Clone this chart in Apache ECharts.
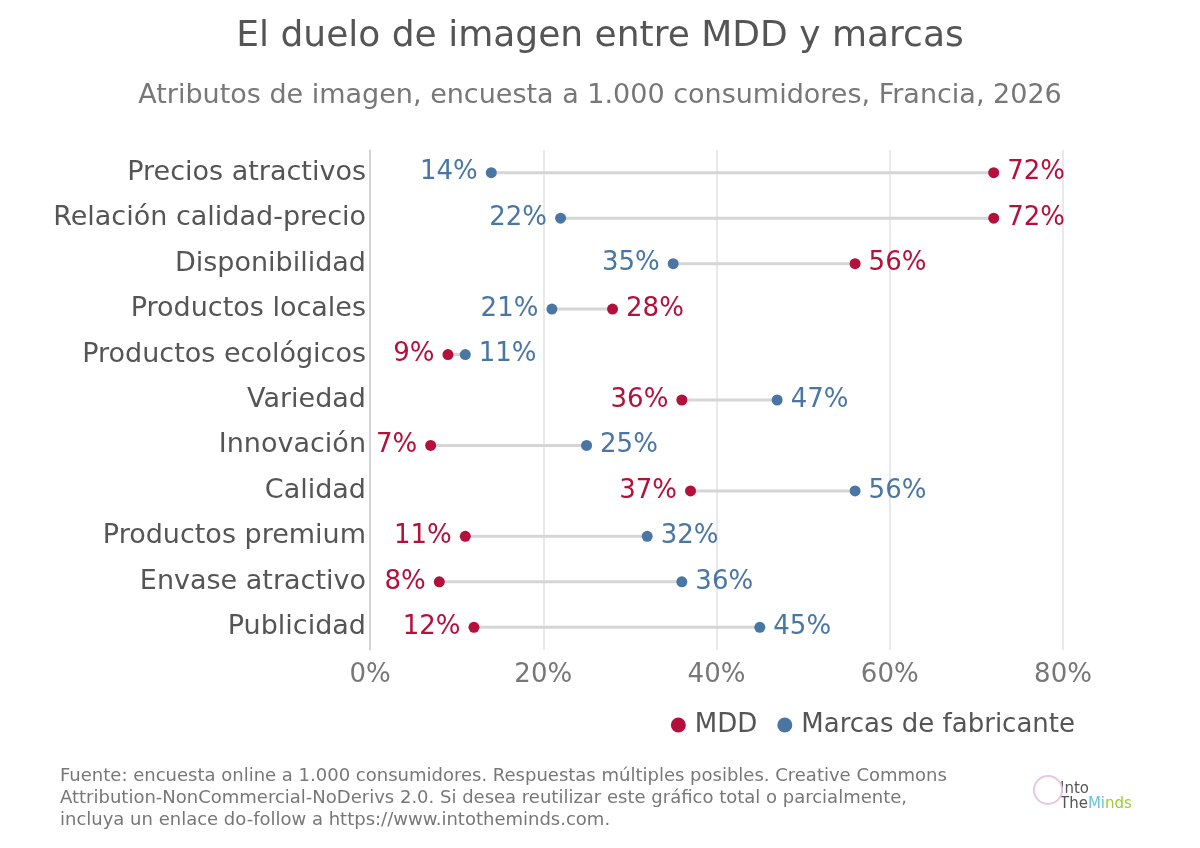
<!DOCTYPE html>
<html><head><meta charset="utf-8">
<script src="https://cdn.jsdelivr.net/npm/echarts@6/dist/echarts.min.js"></script>
<style>html,body{margin:0;background:#fff}#c{width:1200px;height:848px}</style>
</head><body><div id="c"></div>
<script>
const categories = ['Precios atractivos','Relación calidad-precio','Disponibilidad','Productos locales','Productos ecológicos','Variedad','Innovación','Calidad','Productos premium','Envase atractivo','Publicidad']
const mdd = [72,72,56,28,9,36,7,37,11,8,12]
const marcas = [14,22,35,21,11,47,25,56,32,36,45]
const xTicks = [0,20,40,60,80]

const RED = '#b5103c', BLUE = '#4a76a3'
const F = "'DejaVu Sans', Verdana, sans-serif"

function pts(vals, other, color) {
  return vals.map((v, i) => ({
    value: [v, i],
    label: { show: true, position: v >= other[i] ? 'right' : 'left', distance: 8,
      formatter: v + '%', color: color, fontSize: 26, fontFamily: F }
  }))
}

const chart = echarts.init(document.getElementById('c'))
chart.setOption({
  backgroundColor: '#fff',
  textStyle: { fontFamily: F },
  title: [
    { text: 'El duelo de imagen entre MDD y marcas', left: 'center', top: 14,
      textStyle: { fontSize: 36, fontWeight: 'normal', color: '#555', fontFamily: F } },
    { text: 'Atributos de imagen, encuesta a 1.000 consumidores, Francia, 2026', left: 'center', top: 77,
      textStyle: { fontSize: 27, fontWeight: 'normal', color: '#777', fontFamily: F } }
  ],
  grid: { left: 370, right: 137, top: 150, bottom: 198 },
  xAxis: { type: 'value', min: 0, max: 80, interval: 20,
    axisLabel: { formatter: '{value}%', fontSize: 26, color: '#777', margin: 12, fontFamily: F },
    axisLine: { show: false }, axisTick: { show: false },
    splitLine: { lineStyle: { color: '#e2e2e2', width: 1.5 } } },
  yAxis: { type: 'category', data: categories, inverse: true,
    axisLine: { show: true, lineStyle: { color: '#ccc', width: 1.5 } }, axisTick: { show: false },
    axisLabel: { fontSize: 27, color: '#555', margin: 4, fontFamily: F, padding: [4, 0, 0, 0] } },
  legend: { right: 120, top: 707, itemGap: 20, itemWidth: 15, itemHeight: 15, icon: 'circle',
    textStyle: { fontSize: 26, color: '#555', fontFamily: F, padding: [0, 0, 0, 4] },
    data: ['MDD', 'Marcas de fabricante'] },
  series: [
    { type: 'custom', silent: true, z: 1,
      data: categories.map((c, i) => [mdd[i], marcas[i], i]),
      renderItem: (params, api) => {
        const a = api.coord([api.value(0), api.value(2)])
        const b = api.coord([api.value(1), api.value(2)])
        return { type: 'line', shape: { x1: a[0], y1: a[1], x2: b[0], y2: b[1] },
          style: { stroke: '#d6d6d6', lineWidth: 3 } }
      } },
    { name: 'MDD', type: 'scatter', symbolSize: 11, z: 3, itemStyle: { color: RED, opacity: 1 }, data: pts(mdd, marcas, RED) },
    { name: 'Marcas de fabricante', type: 'scatter', symbolSize: 11, z: 3, itemStyle: { color: BLUE, opacity: 1 }, data: pts(marcas, mdd, BLUE) }
  ],
  graphic: [
    { type: 'text', left: 60, top: 765, style: { text: 'Fuente: encuesta online a 1.000 consumidores. Respuestas múltiples posibles. Creative Commons\nAttribution-NonCommercial-NoDerivs 2.0. Si desea reutilizar este gráfico total o parcialmente,\nincluya un enlace do-follow a https://www.intotheminds.com.',
      fill: '#777', fontSize: 18, lineHeight: 22, fontFamily: F } },
    { type: 'text', left: 1060, top: 782, style: { text: 'Into', fill: '#555', fontSize: 15, fontFamily: F } },
    { type: 'text', left: 1060, top: 797, style: { rich: { a: { fill: '#555', fontSize: 15, fontFamily: F }, b: { fill: '#6cc3d5', fontSize: 15, fontFamily: F }, c: { fill: '#9acd32', fontSize: 15, fontFamily: F } }, text: '{a|The}{b|Mi}{c|nds}' } },
    { type: 'circle', shape: { cx: 1048, cy: 790, r: 14 }, style: { fill: 'none', stroke: '#e8c6e0', lineWidth: 2 } }
  ]
})
</script></body></html>
